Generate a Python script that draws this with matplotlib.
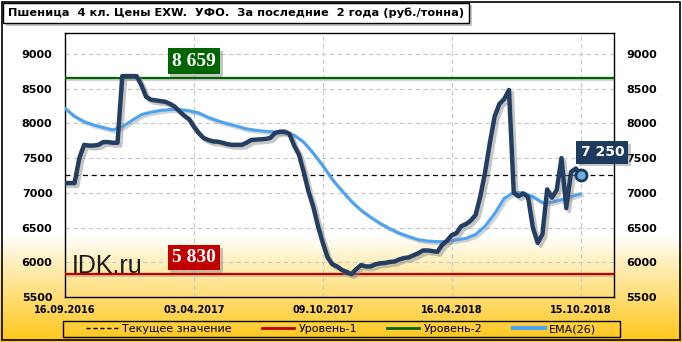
import numpy as np
import matplotlib
matplotlib.use('Agg')
import matplotlib.pyplot as plt
import matplotlib.patheffects as pe
from matplotlib.colors import LinearSegmentedColormap
from matplotlib.lines import Line2D
from matplotlib.patches import Rectangle

title = 'Пшеница  4 кл. Цены EXW.  УФО.  За последние  2 года (руб./тонна)'

# x axis is weekly, labels every 27 weeks
date_labels = ['16.09.2016', '03.04.2017', '09.10.2017', '16.04.2018', '15.10.2018']
date_weeks = [0, 27, 54, 81, 108]

# weekly price, rub/t
price = [7140, 7140, 7140, 7500, 7690, 7680, 7680, 7690, 7730, 7730,
         7720, 7720, 8680, 8680, 8680, 8680, 8550, 8380, 8340, 8330,
         8320, 8310, 8280, 8240, 8170, 8110, 8060, 7950, 7860, 7790,
         7760, 7740, 7735, 7720, 7700, 7690, 7690, 7690, 7720, 7760,
         7765, 7770, 7775, 7790, 7860, 7880, 7880, 7850, 7680, 7550,
         7300, 7020, 6800, 6520, 6280, 6070, 5970, 5940, 5890, 5860,
         5830, 5900, 5960, 5940, 5940, 5970, 5985, 5990, 6005, 6010,
         6040, 6060, 6070, 6100, 6130, 6170, 6170, 6160, 6150, 6250,
         6310, 6390, 6420, 6520, 6550, 6600, 6680, 6950, 7300, 7720,
         8100, 8280, 8350, 8480, 7000, 6950, 6990, 6940, 6500, 6280,
         6400, 7050, 6930, 7040, 7500, 6780, 7300, 7350, 7250]

# EMA(26), read every second week
ema_weeks = list(range(0, 109, 2))
ema = [8215, 8100, 8025, 7975, 7940, 7905, 7950, 8040, 8125, 8160,
       8185, 8198, 8200, 8180, 8150, 8085, 8035, 7995, 7960, 7920,
       7900, 7885, 7875, 7865, 7830, 7730, 7570, 7390, 7190, 7030,
       6875, 6750, 6650, 6560, 6485, 6420, 6370, 6325, 6305, 6297,
       6297, 6320, 6345, 6400, 6520, 6700, 6920, 7005, 7000, 6945,
       6860, 6865, 6900, 6945, 6985]

level_1 = 5830
level_2 = 8659
current = 7250

W, H = 682, 342
fig = plt.figure(figsize=(W / 100, H / 100), dpi=100)

# background gradient (white top, yellow bottom)
bg = fig.add_axes([0, 0, 1, 1], zorder=-10)
cmap = LinearSegmentedColormap.from_list('bg', [
    (0.0, '#FFC61A'), (0.12, '#FFDC6E'), (0.24, '#FFF1C4'),
    (0.31, '#FFFFFF'), (1.0, '#FFFFFF')])
grad = np.linspace(0, 1, 400).reshape(-1, 1)
bg.imshow(grad, cmap=cmap, aspect='auto', extent=[0, 1, 0, 1], origin='lower')
bg.set_xlim(0, 1)
bg.set_ylim(0, 1)
bg.axis('off')

# outer frame and legend frame
fig.add_artist(Rectangle((2 / W, 2 / H), (W - 4) / W, (H - 4) / H, transform=fig.transFigure,
                         fill=False, ec='black', lw=1.2))
fig.add_artist(Rectangle((63 / W, 1 - 337 / H), (620 - 63) / W, 16 / H, transform=fig.transFigure,
                         fill=False, ec='black', lw=1.0))

ax = fig.add_axes([65 / W, 1 - 297 / H, (614 - 65) / W, (297 - 33) / H])
ax.set_facecolor('none')

weeks = np.arange(len(price))
shadow = [pe.SimpleLineShadow(offset=(1.5, -1.5), shadow_color='gray', alpha=0.35), pe.Normal()]

ax.axhline(level_2, color='#006400', lw=1.6, zorder=3, path_effects=shadow)
ax.axhline(level_1, color='#C00000', lw=1.6, zorder=3, path_effects=shadow)
ax.axhline(current, color='black', lw=0.9, ls=(0, (4, 3)), zorder=3)

ax.plot(ema_weeks, ema, color='#4DA3F2', lw=2.2, zorder=4, solid_capstyle='round',
        path_effects=shadow)
ax.plot(weeks, price, color='#243E62', lw=3.2, zorder=5, solid_joinstyle='round',
        solid_capstyle='round',
        path_effects=[pe.SimpleLineShadow(offset=(2, -2), shadow_color='gray', alpha=0.45), pe.Normal()])
ax.plot(weeks[-1], price[-1], 'o', ms=8, mfc='#6FAEDC', mec='#1F3A5F', mew=2, zorder=6)

ax.set_xlim(0, 115)
ax.set_ylim(5500, 9300)
ax.set_yticks(np.arange(5500, 9001, 500))
ax.set_xticks(date_weeks)
ax.set_xticklabels(date_labels)
ax.grid(True, color='#C8C8C8', ls=(0, (4, 3)), lw=0.8)
ax.set_axisbelow(True)
ax.tick_params(axis='both', length=0)
ax.tick_params(axis='y', labelright=True, pad=9, labelsize=8)
ax.tick_params(axis='x', pad=6, labelsize=7)
for lab in ax.get_xticklabels() + ax.get_yticklabels():
    lab.set_fontweight('bold')
for lab in ax.yaxis.get_ticklabels(which='both'):
    lab.set_fontweight('bold')
for side in ['left', 'right', 'top', 'bottom']:
    ax.spines[side].set_color('black')
    ax.spines[side].set_linewidth(1.0)

def value_box(x, y, text, fc):
    t = ax.annotate(text, (x, y), xytext=(0, 8), textcoords='offset pixels',
                    ha='center', va='bottom', color='white', fontsize=14, fontweight='bold',
                    family='Liberation Serif', zorder=8,
                    bbox=dict(boxstyle='square,pad=0.22', fc=fc, ec='none'))
    t.get_bbox_patch().set_path_effects([
        pe.SimplePatchShadow(offset=(2, -2), shadow_rgbFace='gray', alpha=0.45), pe.Normal()])
    return t

value_box(date_weeks[1], level_2, f'{level_2:,}'.replace(',', ' '), '#006400')
value_box(date_weeks[1], level_1, f'{level_1:,}'.replace(',', ' '), '#C00000')
t = ax.annotate(f'{current:,}'.replace(',', ' '), (weeks[-1], price[-1]), xytext=(0, 16),
                textcoords='offset pixels', ha='left', va='bottom', color='white',
                fontsize=10, fontweight='bold', zorder=8,
                bbox=dict(boxstyle='square,pad=0.3', fc='#1F3A5F', ec='none'))
t.get_bbox_patch().set_path_effects([
    pe.SimplePatchShadow(offset=(2, -2), shadow_rgbFace='gray', alpha=0.45), pe.Normal()])

ax.text(0.013, 0.09, 'IDK.ru', transform=ax.transAxes, fontsize=18, family='Liberation Sans',
        color='#1A1A1A', va='baseline', ha='left', zorder=7)

# title box
tb = fig.text(8 / W, 1 - 13 / H, title, fontsize=8.2, fontweight='bold', va='center', ha='left',
              bbox=dict(boxstyle='square,pad=0.45', fc='white', ec='black', lw=1.0))
tb.get_bbox_patch().set_path_effects([
    pe.SimplePatchShadow(offset=(2, -2), shadow_rgbFace='gray', alpha=0.45), pe.Normal()])

handles = [Line2D([], [], color='black', lw=1, ls=(0, (3, 2))),
           Line2D([], [], color='#C00000', lw=2),
           Line2D([], [], color='#006400', lw=2),
           Line2D([], [], color='#4DA3F2', lw=3)]
labels = ['Текущее значение', 'Уровень-1', 'Уровень-2', 'EMA(26)']
leg = fig.legend(handles, labels, loc='center', ncol=4,
                 bbox_to_anchor=(341 / W, 1 - 329 / H),
                 frameon=False, fontsize=8, handlelength=2.9, handletextpad=0.4,
                 columnspacing=2.7, borderpad=0, borderaxespad=0)

fig.savefig('out.png', dpi=100)
